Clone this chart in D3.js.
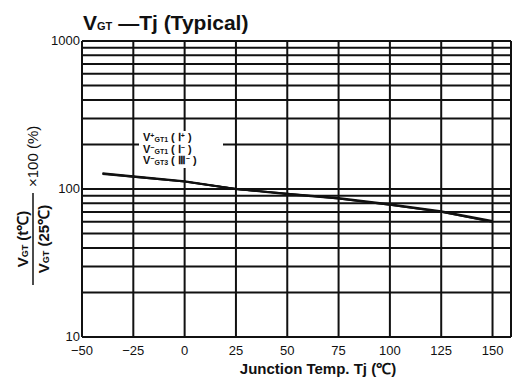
<!DOCTYPE html>
<html lang="en">
<head>
  <meta charset="UTF-8">
  <title>VGT - Tj (Typical)</title>
  <style>
    * {box-sizing: border-box;}
    html, body {
      margin: 0;
      padding: 0;
      background: #fff;
    }
    text { font-family: "Liberation Sans", Arial, sans-serif; fill: #111; }
  </style>
</head>
<body>
  <svg id="chart"></svg>

  <script src="https://d3js.org/d3.v7.min.js"></script>
  <script>
    // junction temperature (degC) and VGT ratio in %
    const temps = [-40, -25, 0, 25, 50, 75, 100, 125, 150]
    const vgtI1plus = [128, 122, 113, 100, 93, 87, 79, 71, 61]
    const vgtI1minus = [127, 121, 112, 100, 93, 86, 78, 70, 60]
    const vgtIII3minus = [126, 121, 112, 100, 92, 86, 78, 70, 60]
    const seriesNames = ['I+', 'I-', 'III-']

    const xTicks = [-50, -25, 0, 25, 50, 75, 100, 125, 150]
    const yTicks = [10, 100, 1000]

    const width = 513
    const height = 384

    const svg = d3.select('#chart')
      .attr('width', width)
      .attr('height', height)

    const x = d3.scaleLinear().domain([-50, 159]).range([82, 511])
    const y = d3.scaleLog().domain([10, 1000]).range([337, 41])

    // grid
    const minor = []
    ;[10, 100].forEach(d => { for (let k = 2; k <= 10; k++) minor.push(d * k) })

    const grid = svg.append('g')
      .attr('stroke', '#111')
      .attr('stroke-width', 2)

    grid.selectAll('line.h')
      .data(minor)
      .enter().append('line')
      .attr('class', 'h')
      .attr('x1', x(-50)).attr('x2', x(159))
      .attr('y1', d => y(d)).attr('y2', d => y(d))

    grid.selectAll('line.v')
      .data(xTicks.concat([159]))
      .enter().append('line')
      .attr('class', 'v')
      .attr('x1', d => x(d)).attr('x2', d => x(d))
      .attr('y1', y(1000)).attr('y2', y(10))

    // bottom line
    grid.append('line')
      .attr('x1', x(-50)).attr('x2', x(159))
      .attr('y1', y(10)).attr('y2', y(10))

    // axis labels
    svg.append('g').selectAll('text')
      .data(xTicks)
      .enter().append('text')
      .attr('x', d => x(d))
      .attr('y', 355)
      .attr('text-anchor', 'middle')
      .attr('font-size', 13)
      .text(d => d < 0 ? '\u2212' + Math.abs(d) : d)

    svg.append('g').selectAll('text')
      .data(yTicks)
      .enter().append('text')
      .attr('x', 80)
      .attr('y', d => y(d) + 4)
      .attr('text-anchor', 'end')
      .attr('font-size', 13)
      .text(d => d)

    // curves
    const line = d3.line()
      .x((d, i) => x(temps[i]))
      .y(d => y(d))

    const seriesData = [vgtI1plus, vgtI1minus, vgtIII3minus]
    svg.append('g').selectAll('path')
      .data(seriesData)
      .enter().append('path')
      .attr('fill', 'none')
      .attr('stroke', '#111')
      .attr('stroke-width', 1.8)
      .attr('d', line)

    // legend box
    svg.append('rect')
      .attr('x', 139).attr('y', 131)
      .attr('width', 84).attr('height', 37)
      .attr('fill', '#fff')

    const legendText = [
      {sign: '+', sub: 'GT1', roman: '\u2160', rsign: '+'},
      {sign: '\u2212', sub: 'GT1', roman: '\u2160', rsign: '\u2212'},
      {sign: '\u2212', sub: 'GT3', roman: '\u2162', rsign: '\u2212'}
    ]
    const leg = svg.append('g')
    legendText.forEach((d, i) => {
      const t = leg.append('text')
        .attr('x', 143)
        .attr('y', 141 + i * 11.5)
        .attr('font-size', 11)
        .attr('font-weight', 'bold')
        .attr('font-family', '"Liberation Serif", serif')
      t.append('tspan').text('V')
      t.append('tspan').attr('font-size', 7).attr('dy', -3).text(d.sign)
      t.append('tspan').attr('font-size', 7).attr('dy', 4).text(d.sub)
      t.append('tspan').attr('dy', -1).text(' ( ' + d.roman)
      t.append('tspan').attr('font-size', 7).attr('dy', -3).text(d.rsign)
      t.append('tspan').attr('dy', 3).text(' )')
    })

    // title
    const title = svg.append('text')
      .attr('x', 83).attr('y', 30)
      .attr('font-size', 21)
      .attr('font-weight', 'bold')
    title.append('tspan').text('V')
    title.append('tspan').attr('font-size', 11).text('GT')
    title.append('tspan').text(' \u2014Tj (Typical)')

    // x label
    svg.append('text')
      .attr('x', 318).attr('y', 374)
      .attr('text-anchor', 'middle')
      .attr('font-size', 15)
      .attr('font-weight', 'bold')
      .text('Junction Temp. Tj (\u2103)')

    // y label: fraction x 100 (%)
    const yl = svg.append('g')
      .attr('transform', 'translate(33,239) rotate(-90)')
    const num = yl.append('text')
      .attr('x', 0).attr('y', -5)
      .attr('text-anchor', 'middle')
      .attr('font-size', 15)
      .attr('font-weight', 'bold')
    num.append('tspan').text('V')
    num.append('tspan').attr('font-size', 9).text('GT')
    num.append('tspan').text(' (t\u2103)')
    yl.append('line')
      .attr('x1', -46).attr('x2', 46)
      .attr('y1', 0).attr('y2', 0)
      .attr('stroke', '#111').attr('stroke-width', 1.5)
    const den = yl.append('text')
      .attr('x', 0).attr('y', 16)
      .attr('text-anchor', 'middle')
      .attr('font-size', 15)
      .attr('font-weight', 'bold')
    den.append('tspan').text('V')
    den.append('tspan').attr('font-size', 9).text('GT')
    den.append('tspan').text(' (25\u2103)')
    yl.append('text')
      .attr('x', 52).attr('y', 5)
      .attr('font-size', 15)
      .text('\u00d7100 (%)')
  </script>
</body>
</html>
